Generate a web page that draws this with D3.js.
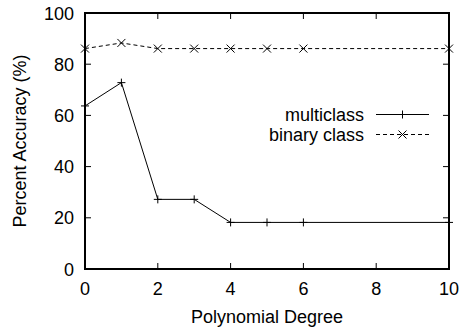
<!DOCTYPE html>
<html><head><meta charset="utf-8">
<script src="https://cdn.jsdelivr.net/npm/d3@7"></script>
<style>body{margin:0;background:#fff}svg{display:block}text{font-family:"Liberation Sans",Arial,sans-serif;fill:#000}</style>
</head><body>
<svg id="c" width="460" height="331"></svg>
<script>
const degrees = [0, 1, 2, 3, 4, 5, 6, 10];
const multiclass = [63.7, 72.8, 27.2, 27.2, 18.2, 18.2, 18.2, 18.2];
const binaryClass = [86.1, 88.3, 86.1, 86.1, 86.1, 86.1, 86.1, 86.1];
const xTicks = [0, 2, 4, 6, 8, 10];
const yTicks = [0, 20, 40, 60, 80, 100];
const seriesNames = ["multiclass", "binary class"];

const svg = d3.select("#c");
const L = 85, R = 449, T = 13, B = 269;
const x = d3.scaleLinear().domain([0, 10]).range([L, R]);
const y = d3.scaleLinear().domain([0, 100]).range([B, T]);
const tl = 6;
const fs = 18;

const g = svg.append("g").attr("stroke", "#000").attr("stroke-width", 1);
xTicks.forEach(t => {
  g.append("line").attr("x1", x(t)).attr("x2", x(t)).attr("y1", B).attr("y2", B - tl);
  g.append("line").attr("x1", x(t)).attr("x2", x(t)).attr("y1", T).attr("y2", T + tl);
});
yTicks.forEach(t => {
  g.append("line").attr("x1", L).attr("x2", L + tl).attr("y1", y(t)).attr("y2", y(t));
  g.append("line").attr("x1", R).attr("x2", R - tl).attr("y1", y(t)).attr("y2", y(t));
});

svg.append("g").selectAll("text").data(xTicks).join("text")
  .attr("x", d => x(d)).attr("y", 295).attr("text-anchor", "middle")
  .attr("font-size", fs).text(d => d);
svg.append("g").selectAll("text").data(yTicks).join("text")
  .attr("x", 74).attr("y", d => y(d) + 6.5).attr("text-anchor", "end")
  .attr("font-size", fs).text(d => d);

svg.append("text").attr("x", (L + R) / 2).attr("y", 323).attr("text-anchor", "middle")
  .attr("font-size", fs).text("Polynomial Degree");
svg.append("text").attr("transform", `translate(26,${(T + B) / 2}) rotate(-90)`)
  .attr("text-anchor", "middle").attr("font-size", fs).text("Percent Accuracy (%)");

const line = d3.line().x((d, i) => x(degrees[i])).y(d => y(d));
const plus = (sel, cx, cy, s) => {
  sel.append("path").attr("d", `M${cx - s},${cy}H${cx + s}M${cx},${cy - s}V${cy + s}`)
    .attr("stroke", "#000").attr("stroke-width", 1).attr("fill", "none");
};
const cross = (sel, cx, cy, s) => {
  sel.append("path").attr("d", `M${cx - s},${cy - s}L${cx + s},${cy + s}M${cx - s},${cy + s}L${cx + s},${cy - s}`)
    .attr("stroke", "#000").attr("stroke-width", 1).attr("fill", "none");
};

const data = svg.append("g");
data.append("path").datum(multiclass).attr("d", line)
  .attr("fill", "none").attr("stroke", "#000").attr("stroke-width", 1);
data.append("path").datum(binaryClass).attr("d", line)
  .attr("fill", "none").attr("stroke", "#000").attr("stroke-width", 1).attr("stroke-dasharray", "4,3");
multiclass.forEach((v, i) => plus(data, x(degrees[i]), y(v), 4));
binaryClass.forEach((v, i) => cross(data, x(degrees[i]), y(v), 4));

const lg = svg.append("g");
const rows = [114.5, 134.5];
seriesNames.forEach((n, i) => {
  lg.append("text").attr("x", 364).attr("y", rows[i] + 6.5).attr("text-anchor", "end")
    .attr("font-size", fs).text(n);
  const ln = lg.append("line").attr("x1", 376).attr("x2", 429).attr("y1", rows[i]).attr("y2", rows[i])
    .attr("stroke", "#000").attr("stroke-width", 1);
  if (i === 1) ln.attr("stroke-dasharray", "4,3");
  if (i === 0) plus(lg, 402.5, rows[i], 4); else cross(lg, 402.5, rows[i], 4);
});

svg.append("rect").attr("x", L).attr("y", T).attr("width", R - L).attr("height", B - T)
  .attr("fill", "none").attr("stroke", "#000").attr("stroke-width", 2);
</script>
</body></html>
